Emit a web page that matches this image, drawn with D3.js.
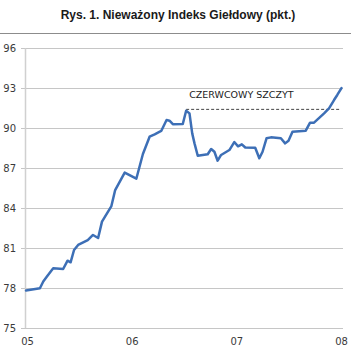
<!DOCTYPE html>
<html>
<head>
<meta charset="utf-8">
<script src="https://cdn.jsdelivr.net/npm/d3@7"></script>
<style>
  body { margin: 0; background: #fff; }
  svg { display: block; font-family: "DejaVu Sans", sans-serif; }
</style>
</head>
<body>
<div id="container"></div>
<script>
/* CONSTANTS AND GLOBALS */
const width = 351;
const height = 354;

// time in years (2005.0 = start of 05), index values in points
const times = [
  2005.00, 2005.133, 2005.165, 2005.20, 2005.26, 2005.355, 2005.397, 2005.426,
  2005.459, 2005.498, 2005.59, 2005.64, 2005.689, 2005.726, 2005.816, 2005.852,
  2005.943, 2006.054, 2006.117, 2006.181, 2006.229, 2006.292, 2006.343, 2006.371,
  2006.403, 2006.498, 2006.530, 2006.562, 2006.588, 2006.61, 2006.641, 2006.736,
  2006.769, 2006.80, 2006.831, 2006.864, 2006.943, 2006.99, 2007.026, 2007.062,
  2007.095, 2007.19, 2007.229, 2007.26, 2007.298, 2007.34, 2007.435, 2007.476,
  2007.508, 2007.546, 2007.673, 2007.714, 2007.752, 2007.848, 2007.895, 2007.943,
  2007.974, 2008.014
];
const values = [
  77.83, 78.0, 78.51, 78.88, 79.5, 79.45, 80.07, 79.95,
  80.87, 81.25, 81.62, 82.0, 81.77, 83.0, 84.17, 85.37,
  86.68, 86.22, 88.07, 89.37, 89.55, 89.8, 90.62, 90.57,
  90.31, 90.32, 91.32, 91.12, 89.62, 88.87, 87.94, 88.05,
  88.45, 88.24, 87.57, 88.0, 88.37, 88.97, 88.65, 88.8,
  88.56, 88.54, 87.75, 88.24, 89.25, 89.32, 89.25, 88.87,
  89.07, 89.74, 89.82, 90.42, 90.42, 91.12, 91.5, 92.12,
  92.5, 93.02
];
const yTicks = [75, 78, 81, 84, 87, 90, 93, 96];
const xTicks = [2005, 2006, 2007, 2008];
const xTickLabels = ["05", "06", "07", "08"];
const peakLevel = 91.42;
const peakStart = 2006.530;
const peakLabel = "CZERWCOWY SZCZYT";
const title = "Rys. 1. Nieważony Indeks Giełdowy (pkt.)";

const data = times.map((t, i) => ({ t: t, v: values[i] }));

const svg = d3.select("#container")
  .append("svg")
    .attr("width", width)
    .attr("height", height);

const xScale = d3.scaleLinear()
  .domain([2005, 2008])
  .range([26, 340]);

const yScale = d3.scaleLinear()
  .domain([75, 96])
  .range([328.3, 48.3]);

// title + separator
svg.append("text")
  .attr("x", 178)
  .attr("y", 19)
  .attr("text-anchor", "middle")
  .style("font-family", "Liberation Sans, Arial, sans-serif")
  .style("font-weight", "bold")
  .style("font-size", "12px")
  .attr("fill", "#1a1a1a")
  .text(title);

svg.append("line")
  .attr("x1", 0).attr("x2", width)
  .attr("y1", 33.5).attr("y2", 33.5)
  .attr("stroke", "#8c8c8c")
  .attr("stroke-width", 1);

// y gridlines via axis
const yAxis = d3.axisLeft(yScale)
  .tickValues(yTicks)
  .tickSize(-(343 - 21))
  .tickPadding(5)
  .tickFormat(d3.format("d"));

const yAxisGroup = svg.append("g")
  .attr("transform", `translate(${21}, 0)`)
  .call(yAxis);
yAxisGroup.select(".domain").remove();
yAxisGroup.selectAll(".tick line")
  .attr("stroke", "#c6c6c6")
  .attr("shape-rendering", "crispEdges");
yAxisGroup.selectAll(".tick text")
  .attr("fill", "#3a3a3a")
  .style("font-size", "10px")
  .style("font-family", "DejaVu Sans, sans-serif");

// vertical axis line
svg.append("line")
  .attr("x1", 25.5).attr("x2", 25.5)
  .attr("y1", yScale(96)).attr("y2", yScale(75))
  .attr("stroke", "#d0d0d0")
  .attr("stroke-width", 1.5);

// x axis labels
const xAxis = d3.axisBottom(xScale)
  .tickValues(xTicks)
  .tickSize(0)
  .tickPadding(10)
  .tickFormat((d, i) => xTickLabels[i]);

const xAxisGroup = svg.append("g")
  .attr("transform", `translate(${1}, ${yScale(75)})`)
  .call(xAxis);
xAxisGroup.select(".domain").remove();
xAxisGroup.selectAll(".tick text")
  .attr("fill", "#3a3a3a")
  .style("font-size", "10px")
  .style("font-family", "DejaVu Sans, sans-serif");

// peak reference line
svg.append("line")
  .attr("x1", xScale(peakStart)).attr("x2", xScale(2008))
  .attr("y1", yScale(peakLevel)).attr("y2", yScale(peakLevel))
  .attr("stroke", "#444")
  .attr("stroke-width", 1)
  .attr("stroke-dasharray", "3,2");

svg.append("text")
  .attr("x", xScale(peakStart) + 3)
  .attr("y", yScale(peakLevel) - 11)
  .style("font-family", "DejaVu Sans, sans-serif")
  .style("font-size", "9.5px")
  .attr("fill", "#1a1a1a")
  .text(peakLabel);

// main line
const line = d3.line()
  .x(d => xScale(d.t))
  .y(d => yScale(d.v));

svg.append("path")
  .datum(data)
  .attr("fill", "none")
  .attr("stroke", "#3d6fb6")
  .attr("stroke-width", 2.5)
  .attr("stroke-linejoin", "round")
  .attr("stroke-linecap", "round")
  .attr("d", line);
</script>
</body>
</html>
